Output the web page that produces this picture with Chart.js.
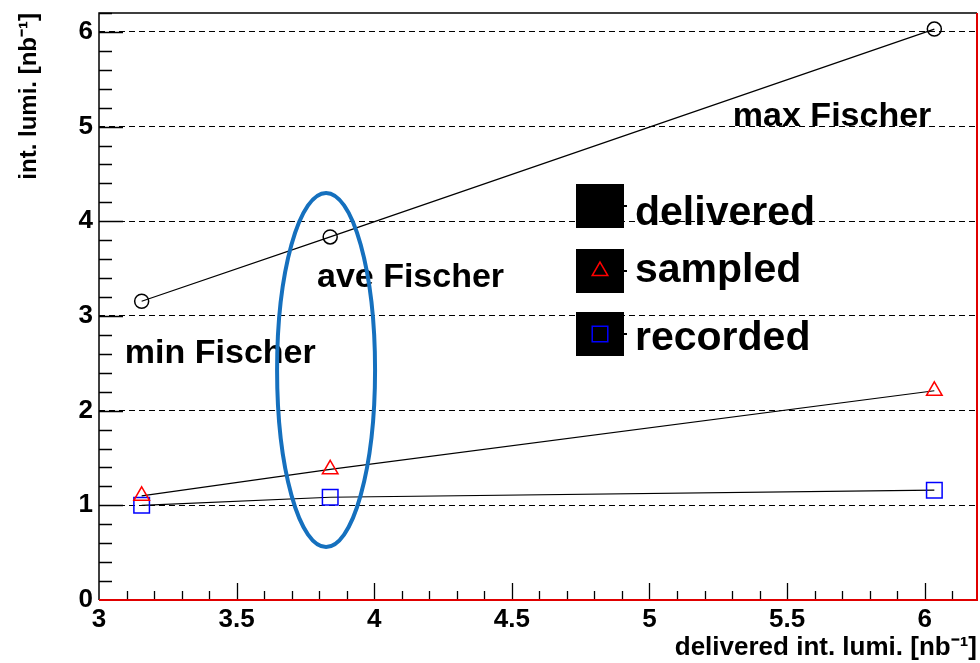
<!DOCTYPE html>
<html><head><meta charset="utf-8">
<script src="https://cdn.jsdelivr.net/npm/chart.js@4.4.0/dist/chart.umd.min.js"></script>
<style>html,body{margin:0;padding:0;background:#fff;overflow:hidden}#wrap{width:980px;height:663px;position:relative}canvas{display:block}</style>
</head><body><div id="wrap"><canvas id="c" width="980" height="663"></canvas></div>
<script>
// ---- data ----
const deliveredX = [3.155, 3.84, 6.035];
const deliveredY = [3.155, 3.835, 6.03];
const sampledY = [1.10, 1.38, 2.21];
const recordedY = [1.00, 1.085, 1.16];
const seriesNames = ['delivered', 'sampled', 'recorded'];
const xTickValues = [3, 3.5, 4, 4.5, 5, 5.5, 6];
const yTickValues = [0, 1, 2, 3, 4, 5, 6];
const fischerLabels = ['min Fischer', 'ave Fischer', 'max Fischer'];
const xTitle = 'delivered int. lumi. [nb\u207B\u00B9]';
const yTitle = 'int. lumi. [nb\u207B\u00B9]';

const FONT = "'Liberation Sans', Arial, Helvetica, sans-serif";

function pts(ys) { return deliveredX.map((x, i) => ({ x: x, y: ys[i] })); }
function zeroPad(s) { s.paddingLeft = 0; s.paddingRight = 0; s.paddingTop = 0; s.paddingBottom = 0; }

const overlayPlugin = {
  id: 'overlay',
  afterDatasetsDraw(chart) {
    const ctx = chart.ctx, a = chart.chartArea;
    const xs = chart.scales.x, ys = chart.scales.y;
    ctx.save();
    // inward ticks
    ctx.strokeStyle = '#000';
    ctx.lineWidth = 1.3;
    ctx.beginPath();
    for (let k = 1; k * 0.2 <= ys.max + 1e-9; k++) {
      const v = k * 0.2;
      const py = Math.round(ys.getPixelForValue(v)) + 0.5;
      const major = Math.abs(v - Math.round(v)) < 1e-6;
      ctx.moveTo(a.left, py);
      ctx.lineTo(a.left + (major ? 24 : 13), py);
    }
    for (let k = 31; k * 0.1 <= xs.max + 1e-9; k++) {
      const v = k * 0.1;
      const px = Math.round(xs.getPixelForValue(v)) + 0.5;
      const major = Math.abs(v * 2 - Math.round(v * 2)) < 1e-6;
      ctx.moveTo(px, a.bottom);
      ctx.lineTo(px, a.bottom - (major ? 17 : 9));
    }
    ctx.stroke();
    // frame
    ctx.lineWidth = 1.5;
    ctx.strokeStyle = '#000';
    ctx.beginPath();
    ctx.moveTo(a.left, a.bottom);
    ctx.lineTo(a.left, a.top);
    ctx.lineTo(a.right, a.top);
    ctx.stroke();
    ctx.lineWidth = 2;
    ctx.strokeStyle = '#e00000';
    ctx.beginPath();
    ctx.moveTo(a.right, a.top);
    ctx.lineTo(a.right, a.bottom);
    ctx.lineTo(a.left, a.bottom);
    ctx.stroke();

    // Fischer labels
    const labelPos = [[3.094, 2.50], [3.792, 3.31], [5.303, 5.005]];
    ctx.fillStyle = '#000';
    ctx.font = 'bold 34px ' + FONT;
    ctx.textAlign = 'left';
    ctx.textBaseline = 'alphabetic';
    fischerLabels.forEach((t, i) => {
      ctx.fillText(t, xs.getPixelForValue(labelPos[i][0]), ys.getPixelForValue(labelPos[i][1]));
    });

    // legend
    const boxLeft = a.left + 477, boxW = 48, boxH = 44;
    const boxTops = [171, 236, 299];
    const baselines = [212, 269, 337];
    ctx.font = 'bold 41px ' + FONT;
    seriesNames.forEach((name, i) => {
      const top = a.top + boxTops[i];
      ctx.fillStyle = '#000';
      ctx.fillRect(boxLeft, top, boxW, boxH);
      ctx.fillRect(boxLeft + boxW, top + boxH / 2 - 1, 3, 2);
      const cx = boxLeft + boxW / 2, cy = top + boxH / 2;
      const ds = chart.data.datasets[i];
      if (i > 0) {
        ctx.strokeStyle = ds.pointBorderColor;
        ctx.lineWidth = ds.pointBorderWidth;
        ctx.beginPath();
        if (ds.pointStyle === 'triangle') {
          const r = ds.pointRadius;
          ctx.moveTo(cx, cy - r);
          ctx.lineTo(cx + r * 0.866, cy + r * 0.5);
          ctx.lineTo(cx - r * 0.866, cy + r * 0.5);
          ctx.closePath();
        } else {
          const s = ds.pointRadius * Math.SQRT1_2;
          ctx.rect(cx - s, cy - s, 2 * s, 2 * s);
        }
        ctx.stroke();
      }
      ctx.fillStyle = '#000';
      ctx.fillText(name, boxLeft + boxW + 11, a.top + baselines[i]);
    });

    // ellipse annotation
    const ecx = xs.getPixelForValue(3.825), ecy = ys.getPixelForValue(2.43);
    const erx = xs.getPixelForValue(3.825 + 0.178) - ecx;
    const ery = ecy - ys.getPixelForValue(2.43 + 1.87);
    ctx.strokeStyle = '#1570be';
    ctx.lineWidth = 4;
    ctx.beginPath();
    ctx.ellipse(ecx, ecy, erx, ery, 0, 0, Math.PI * 2);
    ctx.stroke();
    ctx.restore();
  }
};

new Chart(document.getElementById('c'), {
  type: 'scatter',
  data: {
    datasets: [
      { label: seriesNames[0], data: pts(deliveredY), showLine: true, borderColor: '#000', borderWidth: 1.2,
        pointStyle: 'circle', pointRadius: 7, pointBorderColor: '#000', pointBackgroundColor: 'rgba(0,0,0,0)', pointBorderWidth: 1.5 },
      { label: seriesNames[1], data: pts(sampledY), showLine: true, borderColor: '#000', borderWidth: 1.2,
        pointStyle: 'triangle', pointRadius: 9, pointBorderColor: '#ff0000', pointBackgroundColor: 'rgba(0,0,0,0)', pointBorderWidth: 1.5 },
      { label: seriesNames[2], data: pts(recordedY), showLine: true, borderColor: '#000', borderWidth: 1.2,
        pointStyle: 'rect', pointRadius: 11, pointBorderColor: '#0000ff', pointBackgroundColor: 'rgba(0,0,0,0)', pointBorderWidth: 1.5 }
    ]
  },
  options: {
    responsive: false,
    animation: false,
    devicePixelRatio: 1,
    layout: { autoPadding: false, padding: { left: 0, right: 3, top: 13, bottom: 0 } },
    plugins: { legend: { display: false }, tooltip: { enabled: false }, title: { display: false } },
    scales: {
      x: {
        type: 'linear', min: 3, max: 6.19,
        afterBuildTicks: s => { s.ticks = xTickValues.map(v => ({ value: v })); },
        afterFit: s => { s.height = 63; zeroPad(s); },
        grid: { display: false, drawTicks: false },
        border: { display: false },
        ticks: { color: '#000', font: { family: FONT, size: 26, weight: 'bold' }, padding: 4,
                 maxRotation: 0, autoSkip: false, callback: v => String(v) },
        title: { display: true, text: xTitle, align: 'end', color: '#000',
                 font: { family: FONT, size: 26, weight: 'bold' }, padding: { top: 0, bottom: 0 } }
      },
      y: {
        type: 'linear', min: 0, max: 6.2,
        afterBuildTicks: s => { s.ticks = yTickValues.map(v => ({ value: v })); },
        afterFit: s => { s.width = 99; zeroPad(s); },
        grid: { drawTicks: false, lineWidth: 1, color: c => (c.tick && c.tick.value === 0) ? 'rgba(0,0,0,0)' : '#000' },
        border: { display: false, dash: [6, 4] },
        ticks: { color: '#000', font: { family: FONT, size: 26, weight: 'bold' }, padding: 6,
                 autoSkip: false, callback: v => String(v) },
        title: { display: true, text: yTitle, align: 'end', color: '#000',
                 font: { family: FONT, size: 24, weight: 'bold' }, padding: { top: 15, bottom: 0 } }
      }
    }
  },
  plugins: [overlayPlugin]
});
</script>
</body></html>
